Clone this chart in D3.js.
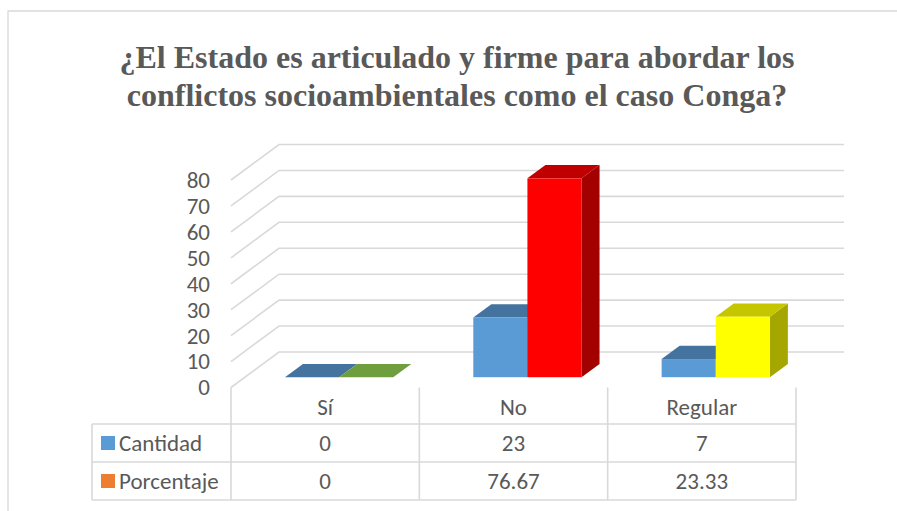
<!DOCTYPE html>
<html>
<head>
<meta charset="utf-8">
<script src="https://cdn.jsdelivr.net/npm/d3@7"></script>
</head>
<body style="margin:0">
<script>
const titleLines = ["¿El Estado es articulado y firme para abordar los", "conflictos socioambientales como el caso Conga?"];
const categories = ["Sí", "No", "Regular"];
const seriesNames = ["Cantidad", "Porcentaje"];
const cantidad = [0, 23, 7];
const porcentaje = [0, 76.67, 23.33];
const cantidadLabels = ["0", "23", "7"];
const porcentajeLabels = ["0", "76.67", "23.33"];
const yTicks = [0, 10, 20, 30, 40, 50, 60, 70, 80];
const legendColors = ["#5B9BD5", "#ED7D31"];
// per-point face colours [front, top, side]
const cantidadColors = [["#5B9BD5", "#44739F", "#3B6590"], ["#5B9BD5", "#44739F", "#3B6590"], ["#5B9BD5", "#44739F", "#3B6590"]];
const porcentajeColors = [["#70AD47", "#6E9E3D", "#5A8532"], ["#FF0000", "#C00000", "#A30000"], ["#FFFF00", "#C6C600", "#A6A600"]];

const SANS = '"Carlito"';
const SERIF = '"Liberation Serif"';
const W = 897, H = 511;
const svg = d3.select("body").append("svg").attr("width", W).attr("height", H).style("display", "block");

// chart border
svg.append("path").attr("d", "M8,511 L8,11 L897,11")
  .attr("fill", "none").attr("stroke", "#D9D9D9").attr("stroke-width", 1.3);

// title
titleLines.forEach((line, i) => {
  svg.append("text").attr("x", 457).attr("y", 68 + i * 37.5).attr("text-anchor", "middle")
    .style("font-family", SERIF).style("font-size", "32px").style("font-weight", "bold").style("fill", "#595959")
    .text(line);
});

// geometry
const frontLeft = 231, frontRight = 796;
const wallDX = 48, wallDY = 35.5;
const barD0 = 0.29, barD1 = 0.665;
const x = d3.scaleBand().domain(categories).range([frontLeft, frontRight]);
const xs = d3.scaleBand().domain(seriesNames).range([0, x.bandwidth()]).paddingOuter(0.74).paddingInner(0);
const y = d3.scaleLinear().domain([0, 80]).range([387.5, 180]);

// gridlines: side wall + back wall
const grid = svg.append("g").attr("fill", "none").attr("stroke", "#D9D9D9").attr("stroke-width", 1.6);
grid.selectAll("path").data(yTicks).join("path")
  .attr("d", t => `M${frontLeft},${y(t)} L${frontLeft + wallDX},${y(t) - wallDY} L${frontRight + wallDX},${y(t) - wallDY}`);

// y axis labels
const yAxis = d3.axisLeft(y).tickValues(yTicks).tickSize(0).tickPadding(21);
const ya = svg.append("g").attr("transform", `translate(${frontLeft},0)`).call(yAxis);
ya.select(".domain").remove();
ya.selectAll("text").style("font-family", SANS).style("font-size", "23px").style("fill", "#595959");

// bars
const bars = [];
categories.forEach((c, i) => {
  bars.push({ cat: c, s: "Cantidad", v: cantidad[i], col: cantidadColors[i] });
  bars.push({ cat: c, s: "Porcentaje", v: porcentaje[i], col: porcentajeColors[i] });
});
const g = svg.append("g");
bars.forEach(b => {
  const x0 = x(b.cat) + xs(b.s) + wallDX * barD0;
  const w = xs.bandwidth();
  const yT = y(b.v) - wallDY * barD0;
  const yB = y(0) - wallDY * barD0;
  const ddx = wallDX * (barD1 - barD0), ddy = wallDY * (barD1 - barD0);
  const bg = g.append("g");
  bg.append("path").attr("fill", b.col[2])
    .attr("d", `M${x0 + w},${yT} L${x0 + w + ddx},${yT - ddy} L${x0 + w + ddx},${yB - ddy} L${x0 + w},${yB} Z`);
  bg.append("path").attr("fill", b.col[1])
    .attr("d", `M${x0},${yT} L${x0 + w},${yT} L${x0 + w + ddx},${yT - ddy} L${x0 + ddx},${yT - ddy} Z`);
  bg.append("rect").attr("x", x0).attr("y", yT).attr("width", w).attr("height", yB - yT).attr("fill", b.col[0]);
});

// data table
const tbl = svg.append("g").attr("stroke", "#D9D9D9").attr("stroke-width", 1.6).attr("fill", "none");
const legLeft = 92;
const rowTop = 387.5, row1 = 424, row2 = 462, row3 = 500;
[row1, row2, row3].forEach(ry => tbl.append("line").attr("x1", legLeft).attr("x2", frontRight).attr("y1", ry).attr("y2", ry));
tbl.append("line").attr("x1", legLeft).attr("x2", legLeft).attr("y1", row1).attr("y2", row3);
const colEdges = [frontLeft].concat(categories.map(c => x(c) + x.bandwidth()));
tbl.selectAll(".vcol").data(colEdges).join("line").attr("class", "vcol")
  .attr("x1", d => d).attr("x2", d => d).attr("y1", rowTop).attr("y2", row3);

function sansText(sel) {
  return sel.style("font-family", SANS).style("font-size", "23px").style("fill", "#595959");
}
const txt = svg.append("g");
categories.forEach(c => {
  sansText(txt.append("text"))
    .attr("x", x(c) + x.bandwidth() / 2).attr("y", (rowTop + row1) / 2 + 1).attr("dy", "0.35em")
    .attr("text-anchor", "middle").text(c);
});
const rows = [{ name: seriesNames[0], labels: cantidadLabels, color: legendColors[0], y0: row1, y1: row2 },
              { name: seriesNames[1], labels: porcentajeLabels, color: legendColors[1], y0: row2, y1: row3 }];
rows.forEach(r => {
  const cy = (r.y0 + r.y1) / 2;
  svg.append("rect").attr("x", 101).attr("y", cy - 7).attr("width", 14).attr("height", 14).attr("fill", r.color);
  sansText(txt.append("text")).attr("x", 119).attr("y", cy).attr("dy", "0.35em").text(r.name);
  categories.forEach((c, i) => {
    sansText(txt.append("text"))
      .attr("x", x(c) + x.bandwidth() / 2).attr("y", cy).attr("dy", "0.35em")
      .attr("text-anchor", "middle").text(r.labels[i]);
  });
});
</script>
</body>
</html>
